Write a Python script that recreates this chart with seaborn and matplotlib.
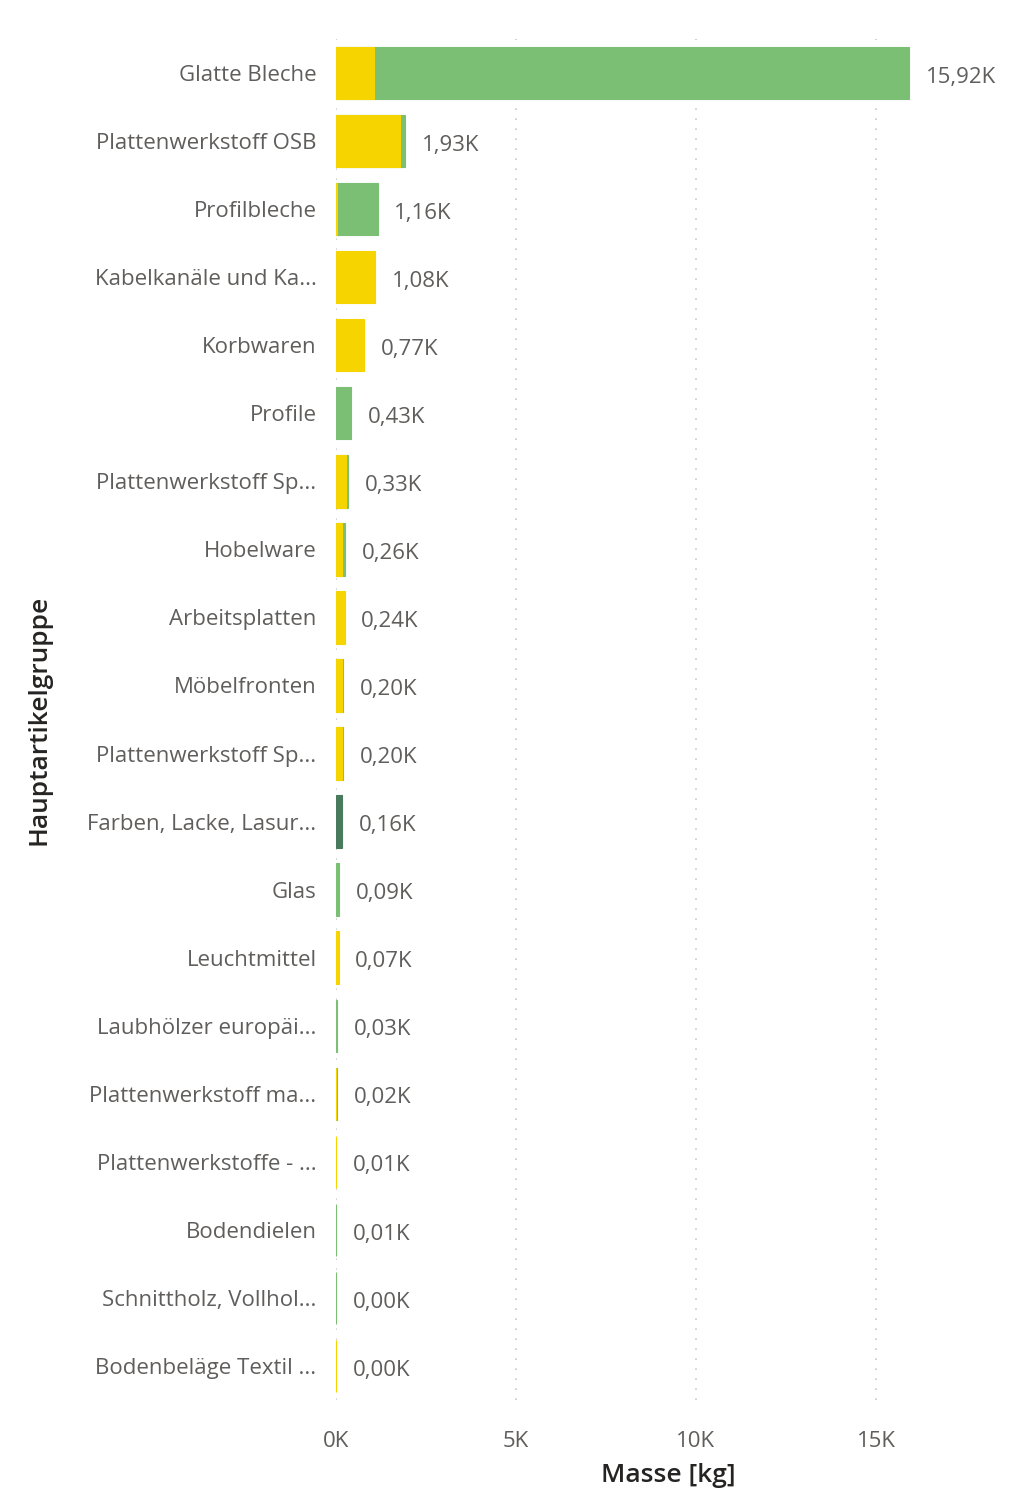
import matplotlib
matplotlib.use("Agg")
import matplotlib.pyplot as plt
import seaborn as sns
import pandas as pd
import numpy as np

categories = ["Glatte Bleche", "Plattenwerkstoff OSB", "Profilbleche", "Kabelkanäle und Ka...",
              "Korbwaren", "Profile", "Plattenwerkstoff Sp...", "Hobelware", "Arbeitsplatten",
              "Möbelfronten", "Plattenwerkstoff Sp...", "Farben, Lacke, Lasur...", "Glas",
              "Leuchtmittel", "Laubhölzer europäi...", "Plattenwerkstoff ma...",
              "Plattenwerkstoffe - ...", "Bodendielen", "Schnittholz, Vollhol...",
              "Bodenbeläge Textil ..."]
yellow = [1060, 1780, 20, 1080, 770, 0, 290, 170, 240, 170, 170, 0, 0, 70, 0, 5, 10, 0, 0, 4]
green = [14860, 150, 1140, 0, 0, 430, 40, 90, 0, 30, 30, 0, 90, 0, 30, 15, 0, 10, 4, 0]
darkgreen = [0, 0, 0, 0, 0, 0, 0, 0, 0, 0, 0, 160, 0, 0, 0, 0, 0, 0, 0, 0]
value_labels = ["15,92K", "1,93K", "1,16K", "1,08K", "0,77K", "0,43K", "0,33K", "0,26K",
                "0,24K", "0,20K", "0,20K", "0,16K", "0,09K", "0,07K", "0,03K", "0,02K",
                "0,01K", "0,01K", "0,00K", "0,00K"]
xticks = [0, 5000, 10000, 15000]
xticklabels = ["0K", "5K", "10K", "15K"]

df = pd.DataFrame({"idx": [f"c{i:02d}" for i in range(len(categories))],
                   "y": yellow, "g": green, "d": darkgreen})
df["l_y"] = df["y"]
df["l_g"] = df["y"] + df["g"]
df["l_d"] = df["y"] + df["g"] + df["d"]
order = list(df["idx"])

sns.set_theme(style="white")
plt.rcParams["font.family"] = ["Open Sans", "DejaVu Sans"]

fig = plt.figure(figsize=(10.11, 14.97), dpi=100)
ax = fig.add_axes([336/1011, 1 - 1400/1497, 664/1011, 1361/1497])

for xt in xticks:
    ax.axvline(xt, color="#C8C8C8", linestyle=(0, (1, 5)), linewidth=1.2, zorder=0)

bw = 0.77
layers = [("l_d", "d", "#4A7A5E", 2), ("l_g", "g", "#7BBF75", 3), ("l_y", "y", "#F5D400", 4)]
for col, seg, colr, z in layers:
    n0 = len(ax.patches)
    sns.barplot(data=df, y="idx", x=col, order=order, color=colr, width=bw, saturation=1,
                ax=ax, orient="h", zorder=z, edgecolor=colr, linewidth=0.8)
    new = ax.patches[n0:]
    for p, segval in zip(new, df[seg].values):
        if segval <= 0:
            p.set_visible(False)

totals = df["l_d"].values
for i, (t, lab) in enumerate(zip(totals, value_labels)):
    ax.annotate(lab, (t, i), xytext=(12, -3), textcoords="offset points",
                ha="left", va="center", fontsize=16, color="#605E5C")

ax.set_xlim(0, 664/36*1000)
ax.set_ylim(len(categories) - 0.5, -0.5)
ax.set_yticks(range(len(categories)))
ax.set_yticklabels(categories)
ax.set_xticks(xticks)
ax.set_xticklabels(xticklabels, fontsize=16, color="#605E5C")
ax.tick_params(axis="x", length=0, pad=22)
ax.tick_params(axis="y", length=0, pad=14, labelsize=16, labelcolor="#605E5C")
for s in ax.spines.values():
    s.set_visible(False)
ax.set_xlabel("Masse [kg]", fontsize=19, color="#252423", labelpad=8, fontweight="semibold")
ax.set_ylabel("Hauptartikelgruppe", fontsize=19, color="#252423", labelpad=26, fontweight="semibold")

fig.savefig("out.png", dpi=100)
